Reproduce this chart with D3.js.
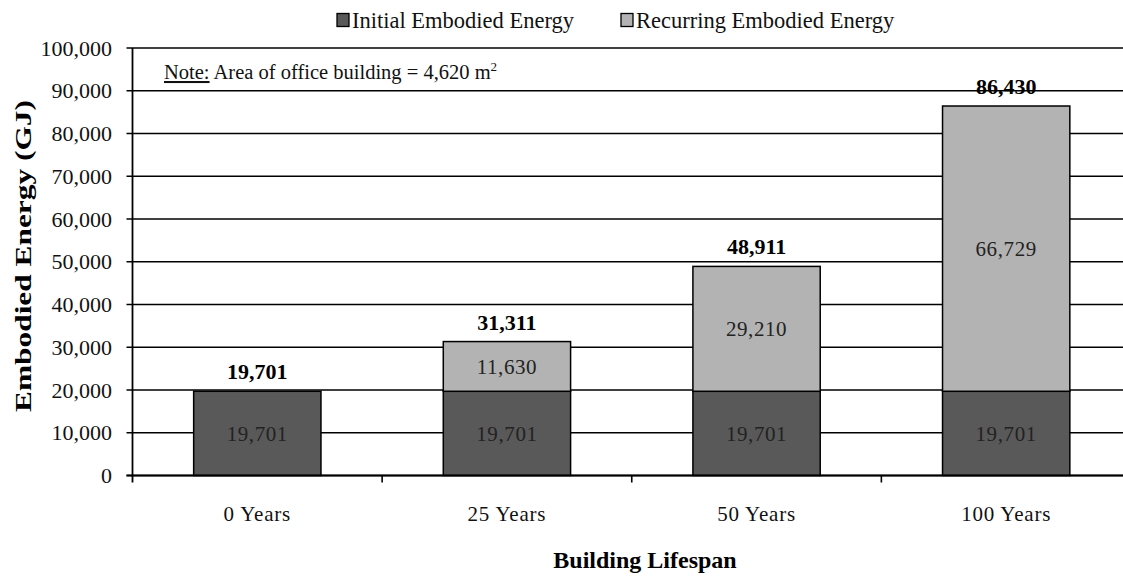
<!DOCTYPE html>
<html>
<head>
<meta charset="utf-8">
<script src="https://cdn.jsdelivr.net/npm/d3@7/dist/d3.min.js"></script>
<style>
  html, body { margin: 0; padding: 0; background: #fff; }
  svg { display: block; font-family: "Liberation Serif", "Times New Roman", serif; }
</style>
</head>
<body>
<svg id="chart" width="1123" height="578"></svg>
<script>
const categories = ["0 Years", "25 Years", "50 Years", "100 Years"];
const initialEnergy = [19701, 19701, 19701, 19701];
const recurringEnergy = [0, 11630, 29210, 66729];
const totals = [19701, 31311, 48911, 86430];
const yTicks = [0, 10000, 20000, 30000, 40000, 50000, 60000, 70000, 80000, 90000, 100000];
const seriesNames = ["Initial Embodied Energy", "Recurring Embodied Energy"];
const seriesColors = ["#595959", "#b3b3b3"];

(function () {
const svg = d3.select("#chart");
const plotLeft = 132.5, plotRight = 1131, plotTop = 48, plotBottom = 475.5;

const x = d3.scaleBand().domain(categories).range([plotLeft, plotRight]).paddingInner(0.49).paddingOuter(0.245);
const y = d3.scaleLinear().domain([0, 100000]).range([plotBottom, plotTop]);
const fmt = d3.format(",");

// gridlines
svg.append("g").selectAll("line").data(yTicks).join("line")
  .attr("x1", plotLeft - 6).attr("x2", plotRight)
  .attr("y1", d => y(d)).attr("y2", d => y(d))
  .attr("stroke", "#000").attr("stroke-width", 1.6);

// y tick labels
svg.append("g").selectAll("text").data(yTicks).join("text")
  .attr("x", 112).attr("y", d => y(d)).attr("dy", "0.35em")
  .attr("text-anchor", "end").attr("font-size", 22).attr("fill", "#111")
  .text(d => fmt(d));

// stacked bars
const rows = categories.map((c, i) => ({ cat: c, vals: [initialEnergy[i], recurringEnergy[i]] }));
const g = svg.append("g");
rows.forEach((r, i) => {
  let base = 0;
  r.vals.forEach((v, s) => {
    if (v <= 0) return;
    g.append("rect")
      .attr("x", x(r.cat)).attr("width", x.bandwidth())
      .attr("y", y(base + v)).attr("height", y(base) - y(base + v))
      .attr("fill", seriesColors[s]).attr("stroke", "#000").attr("stroke-width", 1.5);
    g.append("text")
      .attr("x", x(r.cat) + x.bandwidth() / 2).attr("y", y(base + v / 2)).attr("dy", "0.35em")
      .attr("text-anchor", "middle").attr("font-size", 21).attr("fill", "#222")
      .attr("letter-spacing", 0.6)
      .text(fmt(v));
    base += v;
  });
  g.append("text")
    .attr("x", x(r.cat) + x.bandwidth() / 2).attr("y", y(totals[i]) - 12)
    .attr("text-anchor", "middle").attr("font-size", 22).attr("font-weight", "bold").attr("fill", "#000")
    .text(fmt(totals[i]));
});

// axes lines
svg.append("line").attr("x1", plotLeft).attr("x2", plotLeft).attr("y1", plotTop).attr("y2", plotBottom + 7)
  .attr("stroke", "#000").attr("stroke-width", 1.8);
svg.append("line").attr("x1", plotLeft - 6).attr("x2", plotRight).attr("y1", plotBottom).attr("y2", plotBottom)
  .attr("stroke", "#000").attr("stroke-width", 1.8);
const gap = (x.step() - x.bandwidth()) / 2;
svg.append("g").selectAll("line").data(categories.slice(1)).join("line")
  .attr("x1", d => x(d) - gap).attr("x2", d => x(d) - gap)
  .attr("y1", plotBottom).attr("y2", plotBottom + 7)
  .attr("stroke", "#000").attr("stroke-width", 1.6);

// x labels
svg.append("g").selectAll("text").data(categories).join("text")
  .attr("x", d => x(d) + x.bandwidth() / 2).attr("y", 521)
  .attr("text-anchor", "middle").attr("font-size", 21).attr("letter-spacing", 0.8).attr("fill", "#111")
  .text(d => d);

// axis titles
svg.append("text").attr("x", 645).attr("y", 568).attr("text-anchor", "middle")
  .attr("font-size", 24).attr("font-weight", "bold").text("Building Lifespan");
svg.append("text").attr("transform", "translate(31,256) rotate(-90)").attr("text-anchor", "middle")
  .attr("font-size", 24).attr("font-weight", "bold")
  .attr("textLength", 312).attr("lengthAdjust", "spacingAndGlyphs")
  .text("Embodied Energy (GJ)");

// legend
const legendX = [337, 621];
seriesNames.forEach((n, i) => {
  svg.append("rect").attr("x", legendX[i]).attr("y", 13.5).attr("width", 12).attr("height", 13)
    .attr("fill", seriesColors[i]).attr("stroke", "#000").attr("stroke-width", 1.3);
  svg.append("text").attr("x", legendX[i] + 15).attr("y", 28).attr("font-size", 22.5).attr("fill", "#111")
    .text(n);
});

// note
const note = svg.append("text").attr("x", 164).attr("y", 79).attr("font-size", 20.5).attr("fill", "#111");
note.append("tspan").attr("text-decoration", "underline").text("Note:");
note.append("tspan").text(" Area of office building = 4,620 m");
note.append("tspan").attr("font-size", 13).attr("dy", -8).text("2");
})();
</script>
</body>
</html>
